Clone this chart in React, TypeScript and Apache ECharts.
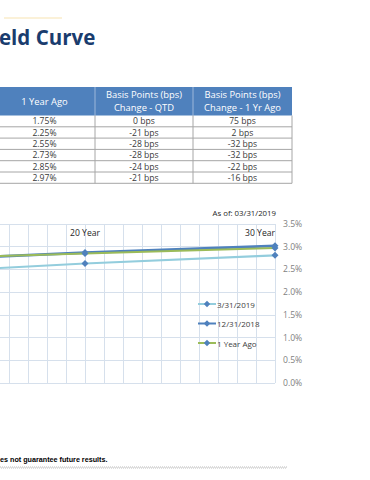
import React, { useEffect, useRef } from "react";
import * as echarts from "echarts";

// ---- data ----
const maturities = [0.25, 2, 5, 10, 20, 30];
const seriesNames = ["3/31/2019", "12/31/2018", "1 Year Ago"];
const yields_3_31_2019 = [2.5, 2.27, 2.23, 2.41, 2.63, 2.81];
const yields_12_31_2018 = [2.5, 2.48, 2.51, 2.69, 2.87, 3.02];
const yields_1YearAgo = [1.75, 2.25, 2.55, 2.73, 2.85, 2.97];
const changeQTD = [0, -21, -28, -28, -24, -21];
const change1Yr = [75, 2, -32, -32, -22, -16];
const tableHeaders = [
  "1 Year Ago",
  "Basis Points (bps)\nChange - QTD",
  "Basis Points (bps)\nChange - 1 Yr Ago",
];
const xLabelYears = [20, 30];
const xLabelTexts = ["20 Year", "30 Year"];
const titleText = "eld Curve";
const asOfText = "As of: 03/31/2019";
const disclaimerText = "es not guarantee future results.";

// ---- layout / styles ----
// The chart canvas extends to the left of the visible page so that the
// visible part of the plot starts in the middle of the maturity axis.
const OFF = 298;
const FONT = "'Open Sans', 'Noto Sans', sans-serif";
const HEADER_BLUE = "#4F81BD";
const BORDER = "#A6A6A6";
const GRIDC = "#D6E0EC";
const lineColors = ["#93CDDD", "#4F81BD", "#9BBB59"];
const lineWidths = [2.2, 2.8, 2];

function buildTable(): any[] {
  const colEdges = [-6, 95, 193, 292].map((x) => x + OFF);
  const headTop = 87;
  const headBottom = 115.5;
  const rowH = 11.3;
  const els: any[] = [];
  els.push({
    type: "rect",
    shape: { x: colEdges[0], y: headTop, width: colEdges[3] - colEdges[0], height: headBottom - headTop },
    style: { fill: HEADER_BLUE },
  });
  for (let c = 1; c < 3; c++) {
    els.push({
      type: "line",
      shape: { x1: colEdges[c], y1: headTop, x2: colEdges[c], y2: headBottom },
      style: { stroke: "#9DB7DA", lineWidth: 1 },
    });
  }
  tableHeaders.forEach((h, c) => {
    els.push({
      type: "text",
      style: {
        text: h,
        x: (colEdges[c] + colEdges[c + 1]) / 2,
        y: (headTop + headBottom) / 2,
        textAlign: "center",
        textVerticalAlign: "middle",
        fill: "#FFFFFF",
        fontSize: 9.4,
        fontFamily: FONT,
        lineHeight: 12.6,
      },
    });
  });
  const rows = yields_1YearAgo.map((v, i) => [
    v.toFixed(2) + "%",
    changeQTD[i] + " bps",
    change1Yr[i] + " bps",
  ]);
  const tableBottom = headBottom + rowH * rows.length;
  rows.forEach((r, i) => {
    const yTop = headBottom + rowH * i;
    els.push({
      type: "line",
      shape: { x1: colEdges[0], y1: yTop + rowH, x2: colEdges[3], y2: yTop + rowH },
      style: { stroke: BORDER, lineWidth: 1 },
    });
    r.forEach((t, c) => {
      els.push({
        type: "text",
        style: {
          text: t,
          x: (colEdges[c] + colEdges[c + 1]) / 2,
          y: yTop + rowH / 2 + 0.3,
          textAlign: "center",
          textVerticalAlign: "middle",
          fill: "#3A3A3A",
          fontSize: 8.6,
          fontFamily: FONT,
        },
      });
    });
  });
  for (let c = 1; c < 4; c++) {
    els.push({
      type: "line",
      shape: { x1: colEdges[c], y1: headBottom, x2: colEdges[c], y2: tableBottom },
      style: { stroke: BORDER, lineWidth: 1 },
    });
  }
  return els;
}

export default function App() {
  const ref = useRef<HTMLDivElement>(null);
  useEffect(() => {
    document.body.style.margin = "0";
    document.body.style.overflow = "hidden";
    const chart = echarts.init(ref.current!, null, { renderer: "svg" });
    const allSeries = [yields_3_31_2019, yields_12_31_2018, yields_1YearAgo];
    const option: any = {
      animation: false,
      backgroundColor: "#FFFFFF",
      grid: { left: 0, right: 95, top: 224, bottom: 97, containLabel: false },
      xAxis: {
        type: "value",
        min: 0,
        max: 30,
        interval: 1,
        position: "top",
        axisLine: { show: false },
        axisTick: { show: false },
        splitLine: { show: true, lineStyle: { color: GRIDC, width: 1 } },
        axisLabel: {
          inside: true,
          margin: 4.5,
          alignMaxLabel: "right",
          fontSize: 8.6,
          fontFamily: FONT,
          color: "#262626",
          formatter: (v: number) => {
            const i = xLabelYears.indexOf(v);
            return i >= 0 ? xLabelTexts[i] : "";
          },
        },
      },
      yAxis: {
        type: "value",
        position: "right",
        min: 0,
        max: 3.5,
        interval: 0.5,
        axisLine: { show: false },
        axisTick: { show: false },
        splitLine: { show: true, lineStyle: { color: GRIDC, width: 1 } },
        axisLabel: {
          margin: 8,
          fontSize: 8.6,
          fontFamily: FONT,
          color: "#7F7F7F",
          formatter: (v: number) => v.toFixed(1) + "%",
        },
      },
      legend: {
        orient: "vertical",
        left: 197 + OFF,
        top: 300,
        padding: 0,
        itemWidth: 18,
        itemHeight: 8,
        itemGap: 11.5,
        textStyle: { fontSize: 8, fontFamily: FONT, color: "#404040", padding: [0, 0, 0, -4] },
        data: seriesNames,
      },
      series: seriesNames.map((name, s) => ({
        name,
        type: "line",
        data: maturities.map((m, i) => [m, allSeries[s][i]]),
        symbol: "diamond",
        symbolSize: 7,
        showAllSymbol: true,
        lineStyle: { color: lineColors[s], width: lineWidths[s] },
        itemStyle: { color: "#4F81BD" },
        emphasis: { disabled: true },
        z: 2 + s,
      })),
      graphic: [
        {
          type: "text",
          style: {
            text: titleText,
            x: -1 + OFF,
            y: 37,
            textVerticalAlign: "middle",
            fill: "#1A3C6E",
            fontSize: 20.5,
            fontWeight: "bold",
            fontFamily: FONT,
          },
        },
        {
          type: "rect",
          shape: { x: 4 + OFF, y: 17, width: 58, height: 2 },
          style: { fill: "#FBF1D8" },
        },
        ...buildTable(),
        {
          type: "text",
          style: {
            text: asOfText,
            x: 276 + OFF,
            y: 213,
            textAlign: "right",
            textVerticalAlign: "middle",
            fill: "#262626",
            fontSize: 7.8,
            fontFamily: FONT,
          },
        },
        {
          type: "text",
          style: {
            text: disclaimerText,
            x: OFF,
            y: 459,
            textVerticalAlign: "middle",
            fill: "#000000",
            fontSize: 7.2,
            fontWeight: "bold",
            fontFamily: "'Liberation Sans', Arial, sans-serif",
          },
        },
        {
          type: "line",
          shape: { x1: OFF, y1: 467, x2: 287 + OFF, y2: 467 },
          style: { stroke: "#BDBDBD", lineWidth: 1, lineDash: [1, 1] },
        },
        {
          type: "line",
          shape: { x1: 1 + OFF, y1: 468, x2: 287 + OFF, y2: 468 },
          style: { stroke: "#BDBDBD", lineWidth: 1, lineDash: [1, 1] },
        },
      ],
    };
    chart.setOption(option);
    return () => chart.dispose();
  }, []);
  return (
    <div
      ref={ref}
      style={{ position: "absolute", left: -OFF, top: 0, width: 370 + OFF, height: 480 }}
    />
  );
}
